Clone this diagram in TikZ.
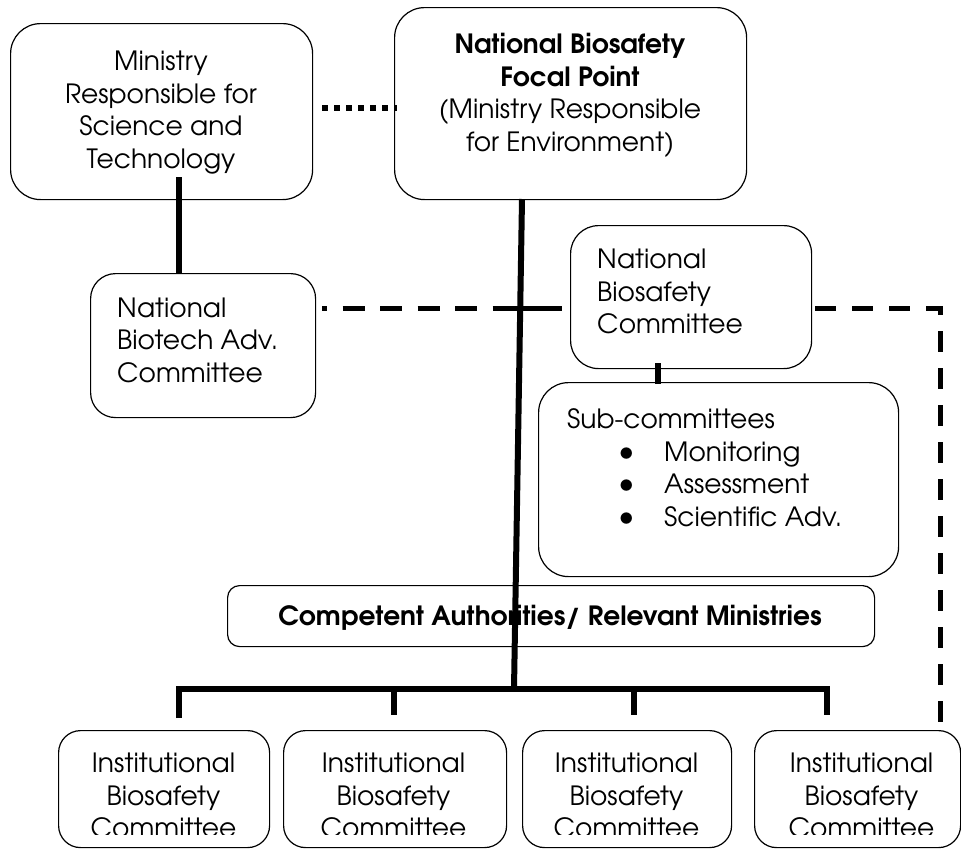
\documentclass[tikz,border=0pt]{standalone}
\usepackage{fontspec}
\setmainfont{texgyreadventor}[Extension=.otf, UprightFont=*-regular, BoldFont=*-bold, ItalicFont=*-italic, BoldItalicFont=*-bolditalic]
\newcommand{\bigbul}{\raisebox{0pt}[0pt][0pt]{\scalebox{1.2}{\textbullet}}}
\begin{document}
\begin{tikzpicture}[x=1pt,y=-1pt,
  box/.style={draw, line width=1.2pt, rounded corners=#1, inner sep=0pt, anchor=north west},
  txt/.style={inner sep=0pt, font=\fontsize{26.5}{32.5}\selectfont},
  heavy/.style={line width=6pt, line join=miter},
  dotline/.style={line width=5.5pt, dash pattern=on 5.5pt off 6.5pt},
  dashline/.style={line width=5pt, dash pattern=on 21pt off 16pt, line join=miter},
  dashdotline/.style={line width=5pt, dash pattern=on 5pt off 15.5pt on 22pt off 15.5pt on 22pt off 15.5pt on 22pt off 15.5pt on 22pt off 15.5pt on 300pt off 1pt},
]
\useasboundingbox (0,0) rectangle (961,849);

% boxes
\node[box=30pt, minimum width=302pt, minimum height=176pt] (mst) at (10,23) {};
\node[box=30pt, minimum width=352pt, minimum height=192pt] (nbfp) at (394,7) {};
\node[box=25pt, minimum width=225pt, minimum height=144pt] (nbac) at (90,273) {};
\node[box=28pt, minimum width=241pt, minimum height=143pt] (nbc) at (570,225) {};
\node[box=30pt, minimum width=360pt, minimum height=194pt] (sub) at (538,382) {};
\node[box=12pt, minimum width=647pt, minimum height=61pt] (ca) at (227,585) {};
\node[box=22pt, minimum width=211pt, minimum height=117pt] (ibc1) at (58,730) {};
\node[box=22pt, minimum width=223pt, minimum height=117pt] (ibc2) at (283,730) {};
\node[box=22pt, minimum width=209pt, minimum height=117pt] (ibc3) at (522,730) {};
\node[box=22pt, minimum width=206pt, minimum height=117pt] (ibc4) at (754,730) {};

% texts
\node[txt, align=center] (mstT) at (161,112.5) {Ministry\\Responsible for\\Science and\\Technology};
\node[txt, align=center] (nbfpT) at (570,95.5) {\textbf{National Biosafety}\\\textbf{Focal Point}\\(Ministry Responsible\\for Environment)};
\node[txt, align=left, anchor=west] (nbacT) at (117,340) {National\\Biotech Adv.\\Committee};
\node[txt, align=left, anchor=west] (nbcT) at (597,291.5) {National\\Biosafety\\Committee};
\node[txt, align=left, anchor=west] (subT) at (567,467.5) {Sub-committees\\\hspace*{51pt}\makebox[46pt][l]{\bigbul}Monitoring\\\hspace*{51pt}\makebox[46pt][l]{\bigbul}Assessment\\\hspace*{51pt}\makebox[46pt][l]{\bigbul}Scientific Adv.};
\node[txt, font=\fontsize{26.5}{32.5}\selectfont\bfseries] (caT) at (550,617.5) {Competent Authorities/ Relevant Ministries};
\begin{scope}
\clip (0,0) rectangle (961,834);
\node[txt, align=center] (ibc1T) at (163.5,795.5) {Institutional\\Biosafety\\Committee};
\node[txt, align=center] (ibc2T) at (393.5,795.5) {Institutional\\Biosafety\\Committee};
\node[txt, align=center] (ibc3T) at (626.5,795.5) {Institutional\\Biosafety\\Committee};
\node[txt, align=center] (ibc4T) at (861.5,795.5) {Institutional\\Biosafety\\Committee};
\end{scope}

% connectors
\coordinate (dotA) at (322,108);
\draw[dotline] (dotA) -- ([xshift=3pt]dotA -| nbfp.west);

\coordinate (sA) at (179,177);
\draw[heavy] (sA) -- (sA |- nbac.north);

\coordinate (ddA) at (322,308);
\draw[dashdotline] (ddA) -- ([xshift=-8pt]ddA -| nbc.west);

\coordinate (nsA) at (658,363);
\draw[heavy] (nsA) -- ([yshift=-2pt]nsA |- sub.north);

\coordinate (dsA) at (815,308);
\coordinate (dsB) at (940,308);
\draw[dashline] (dsA) -- (dsB) -- (dsB |- ibc4.north);

\coordinate (mA) at (522,199);
\coordinate (bus) at (514,689);
\draw[heavy] (mA) -- (bus);

\coordinate (d1) at (179,718);
\coordinate (d2) at (394,715);
\coordinate (d3) at (634,715);
\coordinate (d4) at (827,715);
\draw[heavy] (d1) -- (d1 |- bus) -- (d4 |- bus) -- (d4);
\draw[heavy] (d2 |- bus) -- (d2);
\draw[heavy] (d3 |- bus) -- (d3);
\end{tikzpicture}
\end{document}
